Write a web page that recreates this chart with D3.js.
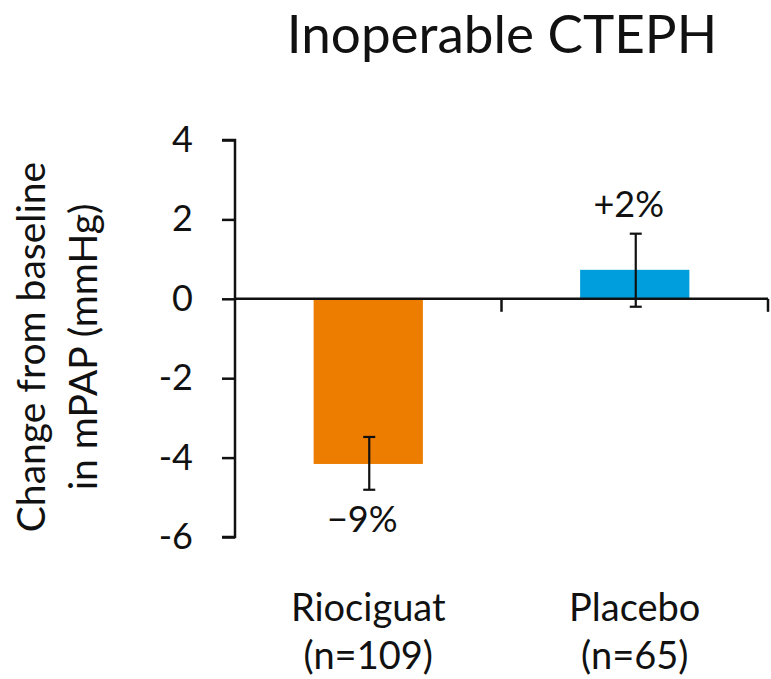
<!DOCTYPE html>
<html>
<head>
<meta charset="utf-8">
<script src="https://cdn.jsdelivr.net/npm/d3@7"></script>
<style>
  body { margin: 0; background: #fff; }
  #chart { width: 771px; height: 679px; }
  text { font-family: Lato, "Open Sans", sans-serif; fill: #111; }
</style>
</head>
<body>
<div id="chart"></div>
<script>
// chart data
const categories = ["Riociguat", "Placebo"];
const sampleSizes = ["(n=109)", "(n=65)"];
const means = [-4.16, 0.73];
const errLow = [-4.81, -0.2];
const errHigh = [-3.48, 1.64];
const pctLabels = ["\u22129%", "+2%"];
const barColors = ["#ED7D00", "#009EDD"];
const yTicks = [4, 2, 0, -2, -4, -6];

const width = 771, height = 679;
const margin = { left: 235, right: 3, top: 140, bottom: 142 };

const svg = d3.select("#chart").append("svg")
    .attr("width", width)
    .attr("height", height);

const y = d3.scaleLinear()
    .domain([-6, 4])
    .range([height - margin.bottom, margin.top]);

const x = d3.scaleBand()
    .domain(categories)
    .range([margin.left, width - margin.right])
    .padding(0);

const barW = x.bandwidth() * 0.41;

// title
svg.append("text")
    .attr("x", 502)
    .attr("y", 53)
    .attr("text-anchor", "middle")
    .attr("font-size", "53px")
    .text("Inoperable CTEPH");

// y axis label (two lines)
const yLab = svg.append("text")
    .attr("transform", "translate(45, 347) rotate(-90)")
    .attr("text-anchor", "middle")
    .attr("font-size", "39px");
yLab.append("tspan").attr("x", 0).attr("dy", 0).text("Change from baseline");
yLab.append("tspan").attr("x", 0).attr("dy", 52).text("in mPAP (mmHg)");

// bars
svg.selectAll(".bar")
    .data(categories)
    .enter().append("rect")
    .attr("class", "bar")
    .attr("x", d => x(d) + (x.bandwidth() - barW) / 2)
    .attr("width", barW)
    .attr("y", (d, i) => Math.min(y(means[i]), y(0)))
    .attr("height", (d, i) => Math.abs(y(means[i]) - y(0)))
    .attr("fill", (d, i) => barColors[i]);

// y axis
const yAxis = svg.append("g")
    .attr("transform", `translate(${margin.left},0)`)
    .call(d3.axisLeft(y).tickValues(yTicks).tickSize(13).tickPadding(29)
        .tickFormat(d => d < 0 ? "-" + Math.abs(d) : d));
yAxis.select(".domain").attr("stroke", "#111").attr("stroke-width", 2.5)
    .attr("d", `M-13,${y(4)}H0V${y(-6)}H-13`);
yAxis.selectAll(".tick line").attr("stroke", "#111").attr("stroke-width", 2.5);
yAxis.selectAll(".tick text").attr("font-size", "36px").attr("font-family", "Lato, 'Open Sans', sans-serif").attr("fill", "#111");

// zero line with category separators
const xAxis = svg.append("g")
    .attr("transform", `translate(0,${y(0)})`);
xAxis.append("line")
    .attr("x1", margin.left).attr("x2", width - margin.right)
    .attr("stroke", "#111").attr("stroke-width", 2.5);
xAxis.selectAll(".sep")
    .data(categories)
    .enter().append("line")
    .attr("class", "sep")
    .attr("x1", d => x(d) + x.bandwidth())
    .attr("x2", d => x(d) + x.bandwidth())
    .attr("y1", 0).attr("y2", 13)
    .attr("stroke", "#111").attr("stroke-width", 2.5);

// error bars
const eb = svg.selectAll(".err")
    .data(categories)
    .enter().append("g")
    .attr("class", "err")
    .attr("transform", d => `translate(${x(d) + x.bandwidth() / 2 + 1},0)`);
eb.append("line")
    .attr("y1", (d, i) => y(errLow[i]))
    .attr("y2", (d, i) => y(errHigh[i]))
    .attr("stroke", "#111").attr("stroke-width", 2.2);
eb.append("line")
    .attr("x1", -6).attr("x2", 6)
    .attr("y1", (d, i) => y(errLow[i])).attr("y2", (d, i) => y(errLow[i]))
    .attr("stroke", "#111").attr("stroke-width", 2.2);
eb.append("line")
    .attr("x1", -6).attr("x2", 6)
    .attr("y1", (d, i) => y(errHigh[i])).attr("y2", (d, i) => y(errHigh[i]))
    .attr("stroke", "#111").attr("stroke-width", 2.2);

// percent labels
svg.selectAll(".pct")
    .data(categories)
    .enter().append("text")
    .attr("class", "pct")
    .attr("x", d => x(d) + x.bandwidth() / 2 - 6)
    .attr("y", (d, i) => means[i] < 0 ? y(errLow[i]) + 42 : y(errHigh[i]) - 17)
    .attr("text-anchor", "middle")
    .attr("font-size", "36px")
    .text((d, i) => pctLabels[i]);

// category labels
const cat = svg.selectAll(".cat")
    .data(categories)
    .enter().append("text")
    .attr("class", "cat")
    .attr("x", d => x(d) + x.bandwidth() / 2)
    .attr("y", 621)
    .attr("text-anchor", "middle")
    .attr("font-size", "38px");
cat.append("tspan").attr("x", d => x(d) + x.bandwidth() / 2).text(d => d);
cat.append("tspan").attr("x", d => x(d) + x.bandwidth() / 2).attr("dy", 48).text((d, i) => sampleSizes[i]);
</script>
</body>
</html>
